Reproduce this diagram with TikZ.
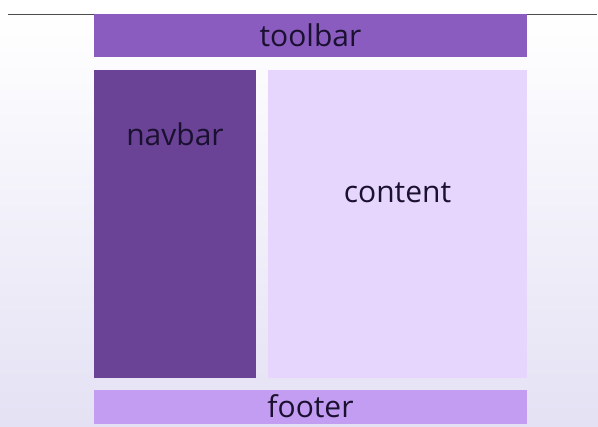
\documentclass[tikz,border=0pt]{standalone}
\usepackage{fontspec}
\setmainfont{Open Sans}
\usepackage{tikz}
\usetikzlibrary{positioning,calc}
\definecolor{toolbarcol}{HTML}{8B5CBF}
\definecolor{navbarcol}{HTML}{6B4396}
\definecolor{contentcol}{HTML}{E6D5FC}
\definecolor{footercol}{HTML}{C39DF2}
\definecolor{bgcol}{HTML}{E4E1F4}
\definecolor{txtcol}{HTML}{1A1030}
\tikzset{
	panel/.style={fill=#1,draw=none,shape=rectangle,inner sep=0pt},
	panetext/.style={text=txtcol,font=\fontsize{30}{36}\selectfont,inner sep=0pt}
}

\begin{document}
\begin{tikzpicture}[x=1pt, y=-1pt]
	\useasboundingbox (0,0) rectangle (598,427);
	\fill[white] (0,0) rectangle (598,14);
	\shade[top color=white, bottom color=bgcol] (0,14) rectangle (598,427);
	\coordinate (lineL) at (8,14);
	\coordinate (lineR) at (597,14);
	\draw[black!70, line width=0.8pt] (lineL) -- (lineR);

	\node[panel=toolbarcol, minimum width=433pt, minimum height=43pt] (toolbar) at (310.5,35.5) {};
	\node[panel=navbarcol, minimum width=162pt, minimum height=308pt] (navbar) at (175,224) {};
	\node[panel=contentcol, minimum width=259pt, minimum height=308pt] (content) at (397.5,224) {};
	\node[panel=footercol, minimum width=433pt, minimum height=34pt] (footer) at (310.5,407) {};

	\node[panetext] (toolbartxt) at (toolbar) {toolbar};
	\node[panetext] (navbartxt) at ($(navbar.north)+(0,64)$) {navbar};
	\node[panetext] (contenttxt) at ($(content.north)+(0,123)$) {content};
	\node[panetext] (footertxt) at ($(footer)+(0,-1)$) {footer};

\end{tikzpicture}
\end{document}
